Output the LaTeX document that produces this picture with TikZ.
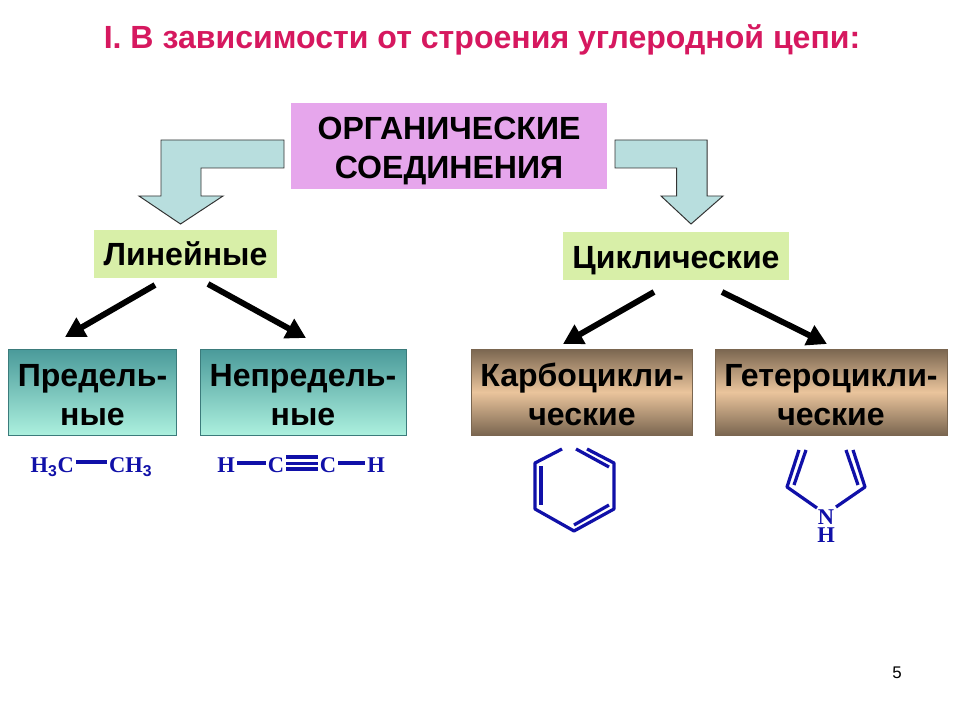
\documentclass[tikz,border=0pt]{standalone}
\usepackage{fontspec}
\setmainfont{Liberation Sans}
\newfontfamily\chemfont{Liberation Serif}
\usetikzlibrary{arrows.meta}
\definecolor{titelrot}{HTML}{D6185F}
\definecolor{chemblau}{HTML}{1010A8}
\definecolor{pfeilblau}{HTML}{B8DEDE}
\definecolor{lila}{HTML}{E6A6EC}
\definecolor{hellgruen}{HTML}{D8EFA8}
\definecolor{tuerkisA}{HTML}{4A9A9A}
\definecolor{tuerkisB}{HTML}{ACF0DE}
\definecolor{braunA}{HTML}{7A6650}
\definecolor{braunB}{HTML}{EAC49C}
\newcommand{\kopf}{\rule{0pt}{23pt}}
\newcommand{\kopfklein}{\rule{0pt}{20pt}}
\tikzset{
    kasten/.style={inner sep=0pt, align=center, font=\bfseries\fontsize{22.8}{27.5}\selectfont},
    gruen/.style={kasten, fill=hellgruen},
    tuerkis/.style={kasten, draw=tuerkisA!80!black, top color=tuerkisA, bottom color=tuerkisB},
    braun/.style={kasten, draw=braunA, top color=braunA, bottom color=braunA, middle color=braunB},
    blockpfeil/.style={draw=black!80, fill=pfeilblau, line width=0.7pt},
    zweig/.style={-{Stealth[length=14pt, width=15pt, inset=0pt]}, line width=4.2pt, black},
    bindung/.style={chemblau, line width=2.3pt},
    chem/.style={inner sep=0pt, outer sep=1.5pt, text=chemblau, font=\chemfont\bfseries\fontsize{16}{12.8}\selectfont}
}
\begin{document}
\begin{tikzpicture}[x=0.025cm, y=-0.025cm]

    % Rahmen
    \useasboundingbox (0,0) rectangle (960,720);

    % Titel
    \node[text=titelrot, font=\bfseries\fontsize{22.8}{26}\selectfont] (titel) at (482,40) {I. В зависимости от строения углеродной цепи:};

    % Kaesten
    \node[kasten, fill=lila, minimum width=317*0.711pt, minimum height=86*0.711pt] (organisch) at (449,146) {\kopf ОРГАНИЧЕСКИЕ\\СОЕДИНЕНИЯ};
    \node[gruen, minimum width=183*0.711pt, minimum height=49*0.711pt] (linear) at (185.5,254) {Линейные};
    \node[gruen, minimum width=226*0.711pt, minimum height=48*0.711pt] (zyklisch) at (676,256) {\kopf Циклические};
    \node[tuerkis, minimum width=168*0.711pt, minimum height=86*0.711pt] (gesaettigt) at (92.5,392) {\kopfklein Предель-\\ные};
    \node[tuerkis, minimum width=206*0.711pt, minimum height=86*0.711pt] (ungesaettigt) at (303,392) {\kopfklein Непредель-\\ные};
    \node[braun, minimum width=221*0.711pt, minimum height=86*0.711pt] (karbo) at (582,392) {\kopfklein Карбоцикли-\\ческие};
    \node[braun, minimum width=232*0.711pt, minimum height=86*0.711pt] (hetero) at (831,392) {\kopfklein Гетероцикли-\\ческие};

    % Blockpfeile
    \draw[blockpfeil] (284,140) -- (161,140) -- (161,196) -- (139,196) -- (180.5,224) -- (223,196) -- (201,196) -- (201,168) -- (284,168) -- cycle;
    \draw[blockpfeil] (615,140) -- (707,140) -- (707,196) -- (723,196) -- (691,224) -- (661,196) -- (676.5,196) -- (676.5,168) -- (615,168) -- cycle;

    % Zweige
    \coordinate (linksA) at (155,285);
    \coordinate (linksB) at (208,284);
    \coordinate (rechtsA) at (654,292);
    \coordinate (rechtsB) at (722,292);
    \coordinate (zielA) at (65,337);
    \coordinate (zielB) at (306,338);
    \coordinate (zielC) at (563,344);
    \coordinate (zielD) at (827,344);
    \draw[zweig] (linksA) -- (zielA);
    \draw[zweig] (linksB) -- (zielB);
    \draw[zweig] (rechtsA) -- (zielC);
    \draw[zweig] (rechtsB) -- (zielD);

    % Ethan
    \node[chem, anchor=base east] (hdreic) at (76,473) {H$_{\mathbf 3}$C};
    \node[chem, anchor=base west] (chdrei) at (107,473) {CH$_{\mathbf 3}$};
    \draw[bindung] ([yshift=7.8pt]hdreic.base east) -- ([yshift=7.8pt]chdrei.base west);

    % Ethin
    \node[chem, anchor=base] (ha) at (226,473) {H};
    \node[chem, anchor=base] (ca) at (276,473) {C};
    \node[chem, anchor=base] (cb) at (328,473) {C};
    \node[chem, anchor=base] (hb) at (376,473) {H};
    \draw[bindung] ([yshift=7.1pt]ha.base east) -- ([yshift=7.1pt]ca.base west);
    \draw[bindung] ([yshift=11.4pt]ca.base east) -- ([yshift=11.4pt]cb.base west);
    \draw[bindung] ([yshift=6.8pt]ca.base east) -- ([yshift=6.8pt]cb.base west);
    \draw[bindung] ([yshift=2.8pt]ca.base east) -- ([yshift=2.8pt]cb.base west);
    \draw[bindung] ([yshift=7.1pt]cb.base east) -- ([yshift=7.1pt]hb.base west);

    % Benzol
    \draw[bindung, line join=round] (562,449) -- (535,463) -- (535,509) -- (574,531) -- (614,509) -- (614,463) -- (587,449);
    \draw[bindung] (541,466) -- (541,505);
    \draw[bindung] (574,525) -- (609,505);
    \draw[bindung] (576,449) -- (609,467);

    % Pyrrol
    \node[chem, align=center] (pyrrolstick) at (826,526) {N\\H};
    \draw[bindung, line join=round] (799,450) -- (787,487) -- (817,508);
    \draw[bindung, line join=round] (853,450) -- (865,487) -- (836,507);
    \draw[bindung] (806,450) -- (794,485);
    \draw[bindung] (846,450) -- (858,485);

    % Seitenzahl
    \node[font=\fontsize{12}{14}\selectfont] (seite) at (897,673) {5};

\end{tikzpicture}
\end{document}
